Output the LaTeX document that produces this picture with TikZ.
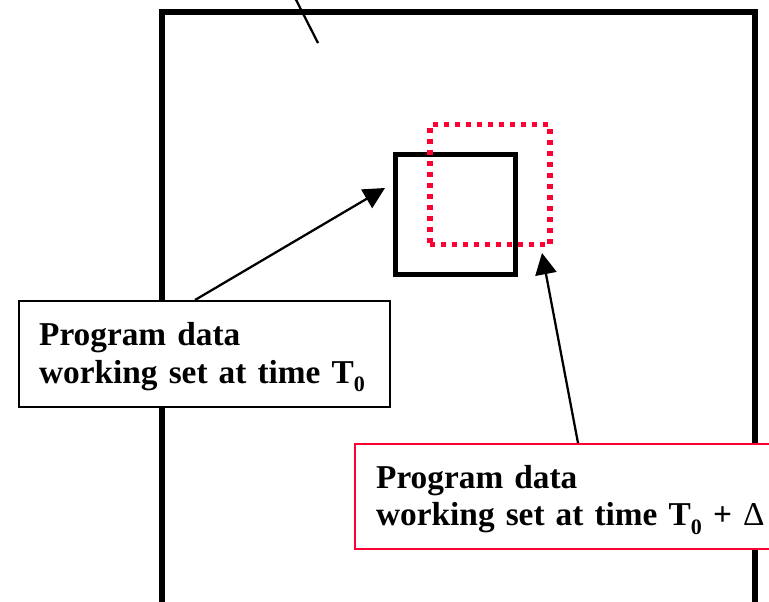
\documentclass[tikz,border=0pt]{standalone}
\usepackage{fontspec}
\setmainfont{Liberation Serif}
\usetikzlibrary{arrows.meta,positioning}

\definecolor{wsred}{RGB}{255,0,51}
\newcommand{\tsub}[1]{\raisebox{-6.5pt}{\fontsize{16.5}{16.5}\selectfont #1}}
\tikzset{every picture/.style={line width=0.75pt}}

\begin{document}
\begin{tikzpicture}[x=0.75pt,y=0.75pt,yscale=-1,xscale=1,
  heavy/.style={line width=4pt},
  wsbox/.style={draw, fill=white, line width=1.7pt, anchor=north west, align=left,
    inner ysep=0pt, font=\fontsize{25}{28}\selectfont\bfseries},
  pointer/.style={line width=1.7pt, -{Triangle[length=16pt,width=16pt]}}]
\useasboundingbox (0,0) rectangle (769,601);

%Shape: Rectangle [id:frame]
\draw [heavy, line width=4.2pt] (162,12) rectangle (755,630) ;
%Straight Lines [id:topline]
\coordinate (topend) at (318,43);
\coordinate (topout) at (288,-16);
\draw [line width=1.7pt] (topout) -- (topend) ;

%Shape: Square [id:set0]
\node [draw, heavy, minimum size=90pt, inner sep=0pt] (set0) at (455.75,214.5) {};
%Shape: Square [id:set1]
\node [draw, wsred, heavy, dash pattern=on 3.75pt off 4.5pt, minimum size=90pt, inner sep=0pt] (set1) at (490,184.5) {};

% Text Node
\node [wsbox, inner xsep=15pt, text width=248.25pt, minimum height=79.5pt] (lbl0) at (18,300)
  {\rule{0pt}{22pt}Program data\\working set at time T\tsub{0}};
% Text Node
\node [wsbox, draw=wsred, inner xsep=15.75pt, text width=300pt, minimum height=78.75pt] (lbl1) at (354,443)
  {\rule{0pt}{22pt}Program data\\working set at time T\tsub{0} + {\mdseries Δ}};

%Straight Lines [id:arrow0]
\coordinate (tip0) at (385,188);
\draw [pointer] ([xshift=132.75pt]lbl0.north west) -- (tip0) ;
%Straight Lines [id:arrow1]
\coordinate (tip1) at (542,253);
\draw [pointer] ([xshift=168pt]lbl1.north west) -- (tip1) ;

\end{tikzpicture}
\end{document}
